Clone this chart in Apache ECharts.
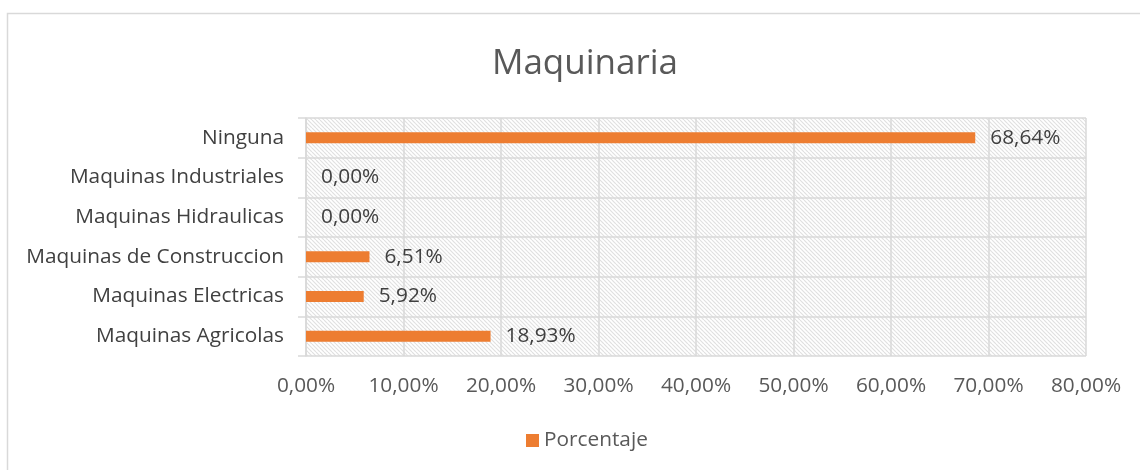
<!DOCTYPE html>
<html>
<head>
<meta charset="utf-8">
<script src="https://cdn.jsdelivr.net/npm/echarts@6/dist/echarts.min.js"></script>
<style>
  html, body { margin: 0; padding: 0; background: #fff; }
  #chart { width: 1140px; height: 470px; }
</style>
</head>
<body>
<div id="chart"></div>
<script>
// Datos (de abajo hacia arriba)
const categorias = [
  'Maquinas Agricolas',
  'Maquinas Electricas',
  'Maquinas de Construccion',
  'Maquinas Hidraulicas',
  'Maquinas Industriales',
  'Ninguna'
]
const porcentajes = [18.93, 5.92, 6.51, 0.00, 0.00, 68.64]
const ejeTicks = [0, 10, 20, 30, 40, 50, 60, 70, 80]

const fuente = 'Open Sans'
const gris = '#d9d9d9'
const tam = 20.8

// Trama diagonal del fondo del área de trazado
const trama = document.createElement('canvas')
trama.width = 8
trama.height = 8
const ctx = trama.getContext('2d')
ctx.fillStyle = '#fff'
ctx.fillRect(0, 0, 8, 8)
ctx.strokeStyle = '#e0e0e0'
ctx.lineWidth = 1.2
for (let k = -8; k <= 16; k += 4) {
  ctx.beginPath()
  ctx.moveTo(k, 0)
  ctx.lineTo(k + 8, 8)
  ctx.stroke()
}

const fmt = v => v.toFixed(2).replace('.', ',') + '%'

const chart = echarts.init(document.getElementById('chart'))
chart.setOption({
  animation: false,
  textStyle: { fontFamily: fuente },
  title: {
    text: 'Maquinaria',
    left: 580,
    textAlign: 'center',
    top: 42,
    textStyle: { fontFamily: fuente, fontSize: 35, fontWeight: 'normal', color: '#595959' }
  },
  graphic: [{
    type: 'rect',
    shape: { x: 7.5, y: 13.5, width: 1200, height: 600 },
    style: { fill: 'none', stroke: gris, lineWidth: 1.5 },
    silent: true
  }],
  legend: {
    bottom: 14,
    left: 521,
    itemWidth: 13,
    itemHeight: 13,
    itemGap: 4,
    icon: 'rect',
    textStyle: { fontFamily: fuente, fontSize: tam, color: '#595959' },
    data: ['Porcentaje']
  },
  grid: {
    left: 306,
    right: 54,
    top: 118,
    bottom: 114,
    show: true,
    borderWidth: 0,
    backgroundColor: { image: trama, repeat: 'repeat' }
  },
  xAxis: {
    type: 'value',
    min: ejeTicks[0],
    max: ejeTicks[ejeTicks.length - 1],
    interval: 10,
    axisLine: { show: false },
    axisTick: { show: false },
    axisLabel: {
      margin: 20,
      fontFamily: fuente,
      fontSize: tam,
      color: '#595959',
      formatter: v => fmt(v)
    },
    splitLine: { show: true, lineStyle: { color: gris, width: 1.5 } }
  },
  yAxis: {
    type: 'category',
    data: categorias,
    axisLine: { show: true, lineStyle: { color: gris, width: 1.5 } },
    axisTick: { show: true, length: 8, lineStyle: { color: gris, width: 1.5 } },
    splitLine: { show: true, lineStyle: { color: gris, width: 1.5 } },
    axisLabel: {
      margin: 22,
      fontFamily: fuente,
      fontSize: tam,
      color: '#404040'
    }
  },
  series: [{
    name: 'Porcentaje',
    type: 'bar',
    data: porcentajes,
    barWidth: 11,
    itemStyle: { color: '#ed7d31' },
    label: {
      show: true,
      position: 'right',
      distance: 15,
      fontFamily: fuente,
      fontSize: tam,
      color: '#404040',
      formatter: p => fmt(p.value)
    }
  }]
})
</script>
</body>
</html>
